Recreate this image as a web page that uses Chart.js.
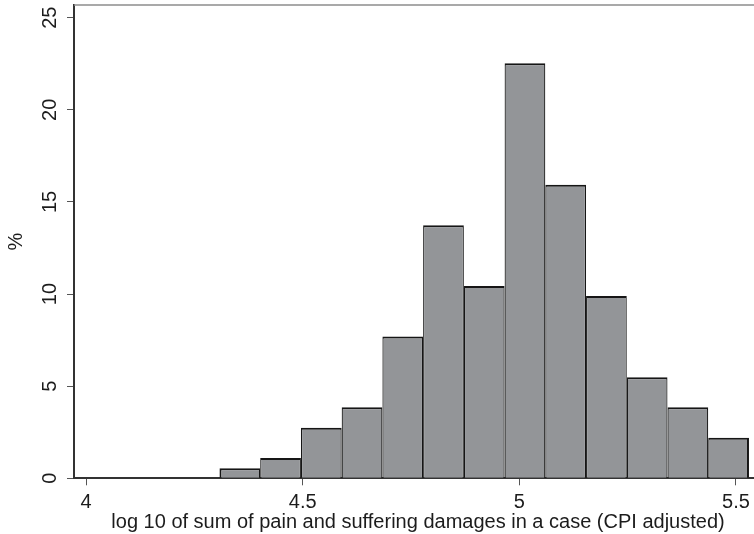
<!DOCTYPE html>
<html>
<head>
<meta charset="utf-8">
<script src="https://cdn.jsdelivr.net/npm/chart.js@4.4.1/dist/chart.umd.min.js"></script>
<style>
  body { margin: 0; background: #fff; }
  canvas { display: block; }
</style>
</head>
<body>
<canvas id="histChart" width="754" height="534"></canvas>
<script>
// histogram bins (log10 of damages) and share of cases in each bin
var binEdges = [4.308, 4.402, 4.496, 4.590, 4.684, 4.778, 4.872, 4.966, 5.060, 5.154, 5.248, 5.342, 5.436, 5.530];
var percent = [0.55, 1.10, 2.75, 3.85, 7.69, 13.74, 10.44, 22.53, 15.93, 9.89, 5.49, 3.85, 2.20];
var xTicks = [4, 4.5, 5, 5.5];
var yTicks = [0, 5, 10, 15, 20, 25];

var xTitle = "log 10 of sum of pain and suffering damages in a case (CPI adjusted)";
var yTitle = "%";

var points = [];
for (var i = 0; i < percent.length; i++) {
    points.push({ x: (binEdges[i] + binEdges[i + 1]) / 2, y: percent[i] });
}

var font = '20px "Liberation Sans", Arial, sans-serif';
var ink = "#1c1c1c";

// tick labels, axis titles and the top frame line
var labelsPlugin = {
    id: "labels",
    afterDraw: function (chart) {
        var ctx = chart.ctx;
        var xs = chart.scales.x, ys = chart.scales.y;
        var area = chart.chartArea;
        ctx.save();

        ctx.strokeStyle = "#8c8c8c";
        ctx.lineWidth = 1.5;
        ctx.beginPath();
        ctx.moveTo(area.left, area.top);
        ctx.lineTo(area.right, area.top);
        ctx.stroke();

        ctx.fillStyle = ink;
        ctx.font = font;
        ctx.textAlign = "center";
        ctx.textBaseline = "middle";
        xTicks.forEach(function (v) {
            ctx.fillText(String(v), xs.getPixelForValue(v), 502);
        });
        yTicks.forEach(function (v) {
            ctx.save();
            ctx.translate(50, ys.getPixelForValue(v));
            ctx.rotate(-Math.PI / 2);
            ctx.fillText(String(v), 0, 0);
            ctx.restore();
        });

        ctx.textBaseline = "alphabetic";
        ctx.fillText(xTitle, 418, 527.5);

        ctx.save();
        ctx.translate(16, (area.top + area.bottom) / 2);
        ctx.rotate(-Math.PI / 2);
        ctx.textBaseline = "middle";
        ctx.fillText(yTitle, 0, 0);
        ctx.restore();

        ctx.restore();
    }
};

new Chart(document.getElementById("histChart"), {
    type: "bar",
    data: {
        datasets: [{
            data: points,
            backgroundColor: "#939598",
            borderColor: "#161616",
            borderWidth: function (c) {
                return {
                    top: 2,
                    left: c.dataIndex === 0 ? 2 : 1.2,
                    right: c.dataIndex === percent.length - 1 ? 2 : 1.2,
                    bottom: 0
                };
            },
            borderSkipped: false,
            inflateAmount: 0,
            barPercentage: 1,
            categoryPercentage: 1
        }]
    },
    options: {
        responsive: false,
        animation: false,
        layout: { padding: { top: 5, right: 0, left: 0, bottom: 0 } },
        plugins: {
            legend: { display: false },
            tooltip: { enabled: false }
        },
        scales: {
            x: {
                type: "linear",
                offset: false,
                min: 3.9723,
                max: 5.5416,
                afterBuildTicks: function (s) {
                    s.ticks = xTicks.map(function (v) { return { value: v }; });
                },
                afterFit: function (s) { s.height = 55.7; },
                ticks: { display: false },
                grid: {
                    offset: false,
                    drawOnChartArea: false,
                    drawTicks: true,
                    tickLength: 7,
                    color: "#555",
                    lineWidth: 1
                },
                border: { display: true, color: "#333", width: 2 }
            },
            y: {
                min: 0,
                max: 25.69,
                afterBuildTicks: function (s) {
                    s.ticks = yTicks.map(function (v) { return { value: v }; });
                },
                afterFit: function (s) { s.width = 74; },
                ticks: { display: false },
                grid: {
                    drawOnChartArea: false,
                    drawTicks: true,
                    tickLength: 7,
                    color: "#555",
                    lineWidth: 1
                },
                border: { display: true, color: "#333", width: 2 }
            }
        }
    },
    plugins: [labelsPlugin]
});
</script>
</body>
</html>
